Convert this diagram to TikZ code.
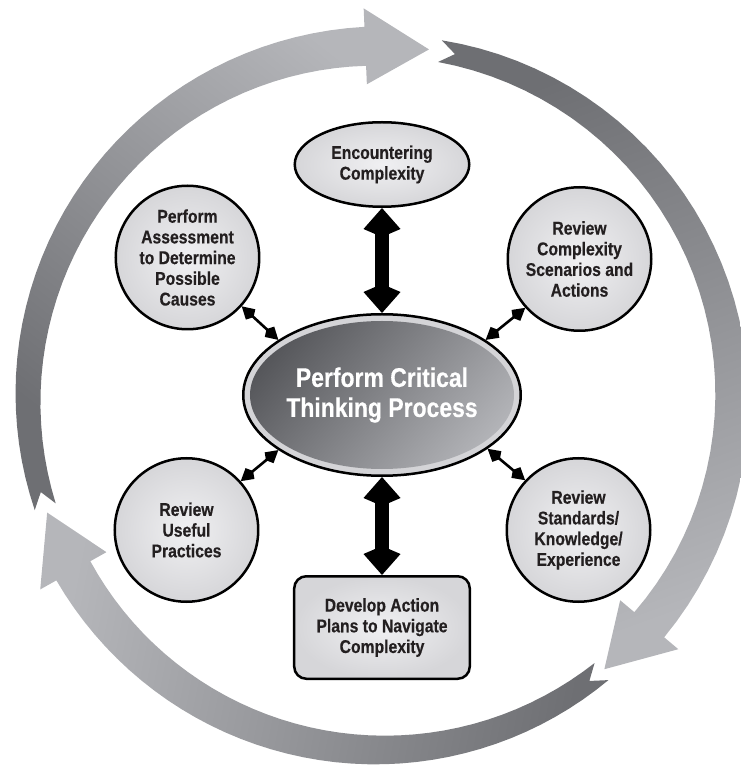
\documentclass[tikz,border=0pt]{standalone}
\usepackage{fontspec}
\setmainfont[FakeStretch=0.85, BoldFeatures={FakeBold=0.4}]{Liberation Sans}
\usetikzlibrary{arrows.meta,shapes.geometric}
\definecolor{ringdark}{HTML}{6E6F73}
\definecolor{ringlight}{HTML}{B5B6BA}
\definecolor{boxlight}{HTML}{F0F0F2}
\definecolor{boxdark}{HTML}{D6D6D9}
\definecolor{maindark}{HTML}{55565A}
\definecolor{mainlight}{HTML}{B3B4B8}
\definecolor{mainrim}{HTML}{D4D4D7}
\definecolor{schrift}{HTML}{231F20}
\tikzset{
	kreis/.style={circle, draw=black, line width=2.5pt, inner color=boxlight,
	outer color=boxdark, minimum size=143.5pt, inner sep=0pt, align=center,
	text=schrift, font=\bfseries\fontsize{18.5}{20.7}\selectfont},
	oval/.style={kreis, ellipse, minimum width=174.5pt, minimum height=84.5pt},
	kasten/.style={kreis, rectangle, rounded corners=12pt,
	minimum width=175.5pt, minimum height=102.5pt},
	hauptknoten/.style={ellipse, draw=black, line width=2.5pt, fill=mainrim,
	minimum width=277.5pt, minimum height=161.5pt, inner sep=0pt, align=center,
	text=white, font=\bfseries\fontsize{27}{30}\selectfont,
	path picture={\shade[top color=mainlight, bottom color=maindark,
	shading angle=-130] (path picture bounding box.center)
	ellipse [x radius=132pt, y radius=74pt];}},
	grosspfeil/.style={{Kite[length=29pt,width=37pt,inset=8pt,line width=0pt]}-{Kite[length=29pt,width=37pt,inset=8pt,line width=0pt]},
	line width=14pt, black},
	kleinpfeil/.style={{Kite[length=16pt,width=14pt,inset=4pt,line width=0pt]}-{Kite[length=16pt,width=14pt,inset=4pt,line width=0pt]},
	line width=2.6pt, black}
}
\begin{document}
\begin{tikzpicture}[x=1pt, y=1pt]
	\useasboundingbox (-380, -367) rectangle (360, 398);
	% Pfeile aussen
	\foreach \von/\bis/\spitze/\wnk in {198/92.4/82/-38, 80.2/-40.1/-50.4/-160,
	-51/-150.6/-161/79}
		\shade[top color=ringlight, bottom color=ringdark, shading angle=\wnk]
		plot[domain=\von:\bis, samples=40] (\x:{363+8.5*(\x-\von)/(\bis-\von)})
		-- (\bis:390) -- (\spitze:352) -- (\bis:314)
		-- plot[domain=\bis:\von, samples=40] (\x:{341-8.5*(\x-\von)/(\bis-\von)})
		-- ({\von-2.5}:352) -- cycle;

	% Knoten
	\node[hauptknoten] (main) at (2, 3) {Perform Critical\\Thinking Process};
	\node[oval] (enc) at (2, 233.5) {Encountering\\Complexity};
	\node[kreis] (assess) at (-192.5, 140.5)
	{Perform\\Assessment\\to Determine\\Possible\\Causes};
	\node[kreis] (szen) at (199.5, 139)
	{Review\\Complexity\\Scenarios and\\Actions};
	\node[kreis] (praxis) at (-193.5, -132) {Review\\Useful\\Practices};
	\node[kreis] (standard) at (198.5, -132)
	{Review\\Standards/\\Knowledge/\\Experience};
	\node[kasten] (plan) at (2, -229.5)
	{Develop Action\\Plans to Navigate\\Complexity};

	% Verbindungen
	\draw[grosspfeil] (enc) -- (main);
	\draw[grosspfeil] (main) -- (plan);
	\draw[kleinpfeil] (assess.-42) -- (main.152);
	\draw[kleinpfeil] (szen.222) -- (main.28);
	\draw[kleinpfeil] (praxis.42) -- (main.208);
	\draw[kleinpfeil] (standard.137) -- (main.-27);
\end{tikzpicture}
\end{document}
